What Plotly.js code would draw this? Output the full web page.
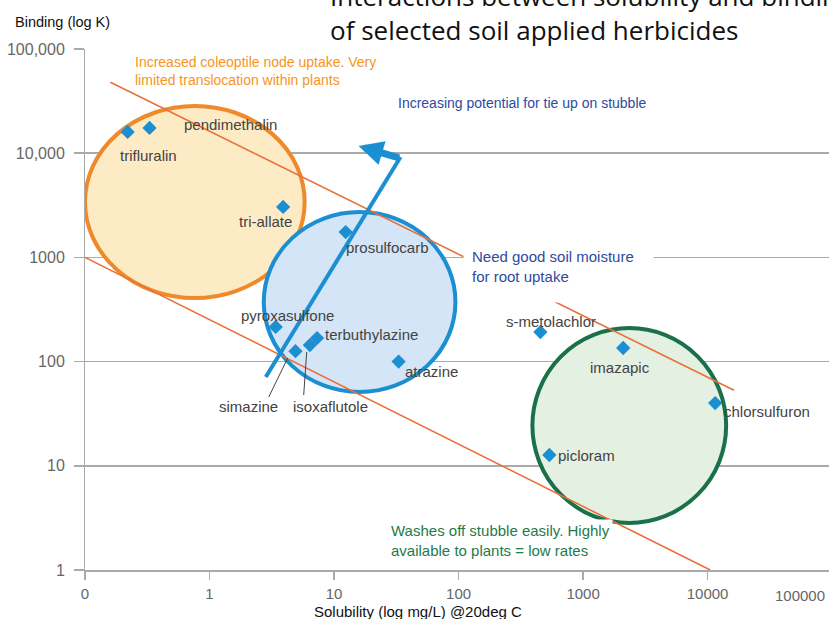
<!DOCTYPE html>
<html><head><meta charset="utf-8">
<script src="https://cdn.plot.ly/plotly-3.0.1.min.js"></script>
<style>html,body{margin:0;padding:0;background:#fff}#chart{width:829px;height:619px}</style>
</head><body><div id="chart"></div>
<script>
// ---- data ----
const herbicides = ['trifluralin','pendimethalin','tri-allate','prosulfocarb','pyroxasulfone','simazine','isoxaflutole','terbuthylazine','atrazine','s-metolachlor','imazapic','chlorsulfuron','picloram'];
const solubility = [0.22, 0.33, 3.9, 12.4, 3.4, 4.9, 6.4, 7.3, 33, 454, 2100, 11500, 536];
const binding    = [16000, 17500, 3050, 1750, 215, 126, 144, 168, 100, 192, 135, 40, 12.7];
const xTickVals = [0.1, 1, 10, 100, 1000, 10000];
const xTickText = ['0', '1', '10', '100', '1000', '10000'];
const xLastTick = '100000';
const yTickVals = [1, 10, 100, 1000, 10000, 100000];
const yTickText = ['1', '10', '100', '1000', '10,000', '100,000'];
const upperGuideX = [0.16, 16300];
const upperGuideY = [48000, 53];
const lowerGuideX = [0.1, 10500];
const lowerGuideY = [1000, 1];

// ---- styles / placement ----
const LBL = 'Liberation Sans, Arial, sans-serif';
const P = v => Math.pow(10, v);   // log-decade position -> axis value
const labelPlace = {
  'trifluralin':   {a:'left',  dx:-10, dy:-24},
  'pendimethalin': {a:'left',  dx:32,  dy:3},
  'tri-allate':    {a:'right', dx:11,  dy:-15},
  'prosulfocarb':  {a:'left',  dx:-2,  dy:-15},
  'pyroxasulfone': {a:'left',  dx:-37, dy:11},
  'simazine':      {a:'left',  dx:-78, dy:-55},
  'isoxaflutole':  {a:'left',  dx:-19, dy:-61},
  'terbuthylazine':{a:'left',  dx:6,   dy:4},
  'atrazine':      {a:'left',  dx:4,   dy:-10},
  's-metolachlor': {a:'left',  dx:-36, dy:11},
  'imazapic':      {a:'left',  dx:-35, dy:-19},
  'chlorsulfuron': {a:'left',  dx:7,   dy:-8},
  'picloram':      {a:'left',  dx:7,   dy:-1}
};
const BLUE = '#1b8fd2';

const traces = [
  {x: upperGuideX, y: upperGuideY, mode:'lines', line:{color:'#e8703a', width:1.6}, hoverinfo:'skip', showlegend:false},
  {x: lowerGuideX, y: lowerGuideY, mode:'lines', line:{color:'#e8703a', width:1.6}, hoverinfo:'skip', showlegend:false},
  {x: solubility, y: binding, text: herbicides, mode:'markers', marker:{symbol:'diamond', size:11, color:BLUE}, showlegend:false}
];

const annotations = herbicides.map((n, i) => ({
  x: Math.log10(solubility[i]), y: Math.log10(binding[i]), xref:'x', yref:'y',
  text: n, showarrow:false, xanchor: labelPlace[n].a, yanchor:'middle',
  xshift: labelPlace[n].dx, yshift: labelPlace[n].dy,
  font:{family:LBL, size:15, color:'#434343'}
}));

annotations.push(
  {xref:'paper', yref:'paper', x:0.3262, y:1.0699, xanchor:'left', yanchor:'middle', align:'left', showarrow:false,
   text:'Interactions between solubility and binding<br>of selected soil applied herbicides',
   font:{family:'Open Sans, sans-serif', size:26, color:'#111'}},
  {xref:'paper', yref:'paper', x:-0.0966, y:1.0518, xanchor:'left', yanchor:'middle', showarrow:false,
   text:'Binding (log K)', font:{family:LBL, size:14.5, color:'#111'}},
  {xref:'paper', yref:'paper', x:0.447, y:-0.0787, xanchor:'center', yanchor:'middle', showarrow:false,
   text:'Solubility (log mg/L) @20deg C', font:{family:LBL, size:15, color:'#111'}},
  {xref:'paper', yref:'paper', x:0.961, y:-0.0480, xanchor:'center', yanchor:'middle', showarrow:false,
   text:xLastTick, font:{family:LBL, size:15, color:'#666'}},
  {xref:'paper', yref:'paper', x:0.0617, y:0.998, xanchor:'left', yanchor:'top', align:'left', showarrow:false,
   bgcolor:'#ffffff', borderpad:3,
   text:'Increased coleoptile node uptake. Very<br>limited translocation within plants',
   font:{family:LBL, size:14, color:'#f7941d'}},
  {xref:'paper', yref:'paper', x:0.4174, y:0.8964, xanchor:'left', yanchor:'middle', showarrow:false,
   text:'Increasing potential for tie up on stubble', font:{family:LBL, size:14, color:'#2e4a9e'}},
  {xref:'paper', yref:'paper', x:0.5087, y:0.6353, xanchor:'left', yanchor:'top', align:'left', valign:'top', showarrow:false,
   bgcolor:'#ffffff', borderpad:8, width:173, height:46,
   text:'Need good soil moisture<br>for root uptake', font:{family:LBL, size:15, color:'#2e4a9e'}},
  {xref:'paper', yref:'paper', x:0.4067, y:0.098, xanchor:'left', yanchor:'top', align:'left', showarrow:false,
   bgcolor:'#ffffff', borderpad:2,
   text:'Washes off stubble easily. Highly<br>available to plants = low rates', font:{family:LBL, size:15, color:'#1e7b4b'}},
  // arrow head of the "tie up" indicator (annotation coords on log axes are in decades)
  {xref:'x', yref:'y', axref:'x', ayref:'y', x:1.197, y:4.069, ax:1.534, ay:3.95, text:'',
   showarrow:true, arrowhead:2, arrowsize:0.7, arrowwidth:7, arrowcolor:BLUE}
);

const shapes = [
  {type:'circle', xref:'x', yref:'y', x0:P(-1.0), x1:P(0.764), y0:P(2.610), y1:P(4.453), layer:'between',
   fillcolor:'#fdebc6', line:{color:'#ef8a2b', width:4}},
  {type:'circle', xref:'x', yref:'y', x0:P(0.4356), x1:P(1.975), y0:P(1.708), y1:P(3.436), layer:'between',
   fillcolor:'#d3e5f6', line:{color:BLUE, width:4}},
  {type:'circle', xref:'x', yref:'y', x0:P(2.593), x1:P(4.149), y0:P(0.451), y1:P(2.322), layer:'between',
   fillcolor:'#e4f0e1', line:{color:'#19704a', width:4}},
  {type:'line', xref:'x', yref:'y', x0:P(0.4516), y0:P(1.852), x1:P(1.534), y1:P(3.964), layer:'above',
   line:{color:BLUE, width:4}},
  {type:'line', xref:'x', yref:'y', x0:P(0.4757), y0:P(1.660), x1:P(0.628), y1:P(2.0345), layer:'above',
   line:{color:'#444', width:1}},
  {type:'line', xref:'x', yref:'y', x0:P(0.7564), y0:P(1.679), x1:P(0.7804), y1:P(2.092), layer:'above',
   line:{color:'#444', width:1}}
];

const layout = {
  width:829, height:619,
  margin:{l:85, r:0, t:49, b:49},
  paper_bgcolor:'#fff', plot_bgcolor:'#fff',
  showlegend:false,
  xaxis:{type:'log', range:[-1, 4.975], tickvals:xTickVals, ticktext:xTickText,
    showgrid:false, zeroline:false, showline:true, linecolor:'#aaa', linewidth:1.5,
    ticks:'outside', ticklen:8, tickcolor:'#aaa', tickwidth:1.5, ticklabelstandoff:1,
    tickfont:{family:LBL, size:15, color:'#666'}},
  yaxis:{type:'log', range:[0, 5], tickvals:yTickVals, ticktext:yTickText,
    showgrid:true, gridcolor:'#aaa', gridwidth:1.5, zeroline:false, showline:true, linecolor:'#aaa', linewidth:1,
    ticks:'outside', ticklen:10, tickcolor:'#aaa', tickwidth:1.5, ticklabelstandoff:6,
    tickfont:{family:LBL, size:16, color:'#666'}},
  annotations: annotations,
  shapes: shapes
};

Plotly.newPlot('chart', traces, layout, {displayModeBar:false, staticPlot:true});
</script></body></html>
